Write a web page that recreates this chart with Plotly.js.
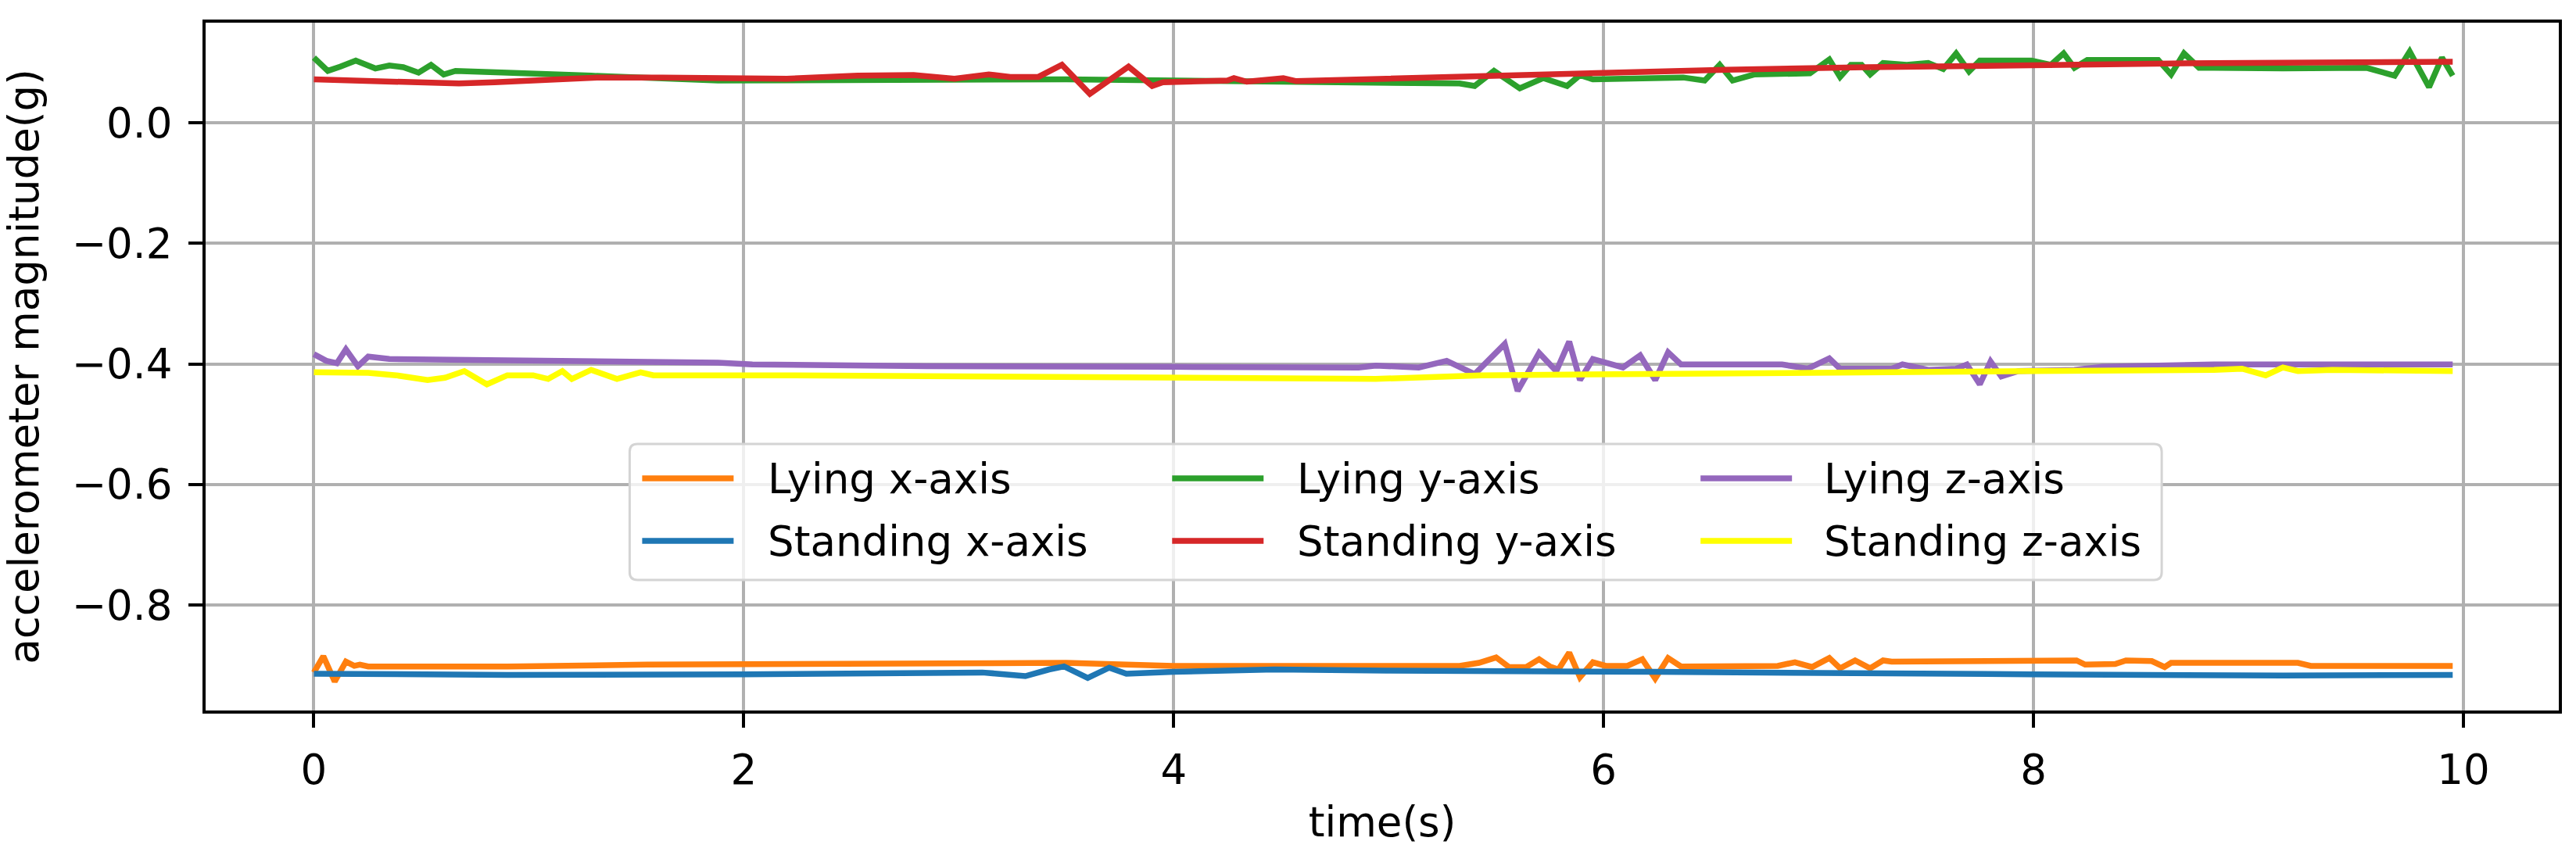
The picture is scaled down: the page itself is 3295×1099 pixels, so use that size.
<!DOCTYPE html>
<html>
<head>
<meta charset="utf-8">
<script src="https://cdn.plot.ly/plotly-3.0.1.min.js"></script>
<style>
  html, body { margin: 0; padding: 0; background: #ffffff; }
  #chart { width: 3295px; height: 1099px; }
</style>
</head>
<body>
<div id="chart"></div>
<script>
// ---------------- data ----------------
const seriesNames = ["Lying x-axis", "Standing x-axis", "Lying y-axis", "Standing y-axis", "Lying z-axis", "Standing z-axis"];
const seriesColors = ["#ff7f0e", "#1f77b4", "#2ca02c", "#d62728", "#9467bd", "#ffff00"];

const tLyingX = [0, 0.044, 0.097, 0.149, 0.188, 0.214, 0.253, 0.9, 1.55, 2.53, 3.5, 4.0, 4.99, 5.22, 5.27, 5.33, 5.42, 5.50, 5.56, 5.64, 5.70, 5.75, 5.79, 5.84, 5.89, 5.95, 6.01, 6.11, 6.18, 6.24, 6.30, 6.36, 6.81, 6.89, 6.97, 7.05, 7.10, 7.17, 7.24, 7.30, 7.34, 7.99, 8.20, 8.24, 8.38, 8.43, 8.55, 8.61, 8.64, 9.23, 9.29, 9.95];
const lyingX = [-0.912, -0.885, -0.927, -0.894, -0.901, -0.899, -0.902, -0.902, -0.899, -0.898, -0.896, -0.901, -0.902, -0.901, -0.903, -0.901, -0.896, -0.887, -0.903, -0.903, -0.890, -0.902, -0.907, -0.879, -0.920, -0.895, -0.901, -0.901, -0.890, -0.922, -0.888, -0.902, -0.901, -0.895, -0.903, -0.888, -0.905, -0.892, -0.905, -0.892, -0.894, -0.891, -0.892, -0.899, -0.898, -0.892, -0.893, -0.903, -0.896, -0.896, -0.901, -0.901];

const tStandingX = [0, 0.9, 2.0, 2.85, 3.11, 3.18, 3.31, 3.42, 3.49, 3.60, 3.70, 3.78, 3.87, 4.0, 4.47, 4.99, 6.24, 7.22, 7.99, 9.16, 9.95];
const standingX = [-0.914, -0.916, -0.915, -0.912, -0.912, -0.914, -0.918, -0.907, -0.902, -0.921, -0.904, -0.914, -0.912, -0.911, -0.907, -0.909, -0.911, -0.912, -0.915, -0.917, -0.916];

const tLyingY = [0, 0.065, 0.123, 0.195, 0.286, 0.351, 0.416, 0.487, 0.545, 0.604, 0.659, 0.708, 0.9, 1.29, 1.88, 3.5, 4.0, 4.94, 5.33, 5.40, 5.49, 5.61, 5.72, 5.83, 5.89, 5.95, 6.24, 6.37, 6.47, 6.54, 6.60, 6.70, 6.96, 7.05, 7.10, 7.15, 7.20, 7.24, 7.30, 7.41, 7.51, 7.58, 7.64, 7.70, 7.75, 7.99, 8.08, 8.14, 8.19, 8.25, 8.58, 8.64, 8.70, 8.77, 8.84, 9.03, 9.16, 9.55, 9.68, 9.75, 9.84, 9.90, 9.95];
const lyingY = [0.108, 0.086, 0.093, 0.103, 0.090, 0.095, 0.092, 0.083, 0.096, 0.080, 0.086, 0.085, 0.083, 0.078, 0.070, 0.072, 0.070, 0.067, 0.065, 0.061, 0.086, 0.057, 0.074, 0.061, 0.079, 0.072, 0.074, 0.075, 0.070, 0.096, 0.070, 0.080, 0.082, 0.105, 0.076, 0.096, 0.096, 0.080, 0.099, 0.096, 0.099, 0.089, 0.115, 0.085, 0.103, 0.103, 0.096, 0.115, 0.091, 0.104, 0.104, 0.080, 0.115, 0.091, 0.091, 0.090, 0.090, 0.091, 0.078, 0.118, 0.059, 0.108, 0.078];

const tStandingY = [0, 0.25, 0.675, 0.84, 1.03, 1.32, 1.62, 2.0, 2.2, 2.53, 2.79, 2.98, 3.14, 3.24, 3.37, 3.48, 3.61, 3.79, 3.90, 3.95, 4.25, 4.28, 4.34, 4.51, 4.57, 4.99, 5.27, 5.98, 6.57, 7.22, 7.99, 8.84, 9.95];
const standingY = [0.072, 0.070, 0.065, 0.067, 0.071, 0.075, 0.075, 0.073, 0.073, 0.078, 0.079, 0.073, 0.080, 0.076, 0.076, 0.096, 0.048, 0.093, 0.061, 0.067, 0.070, 0.074, 0.068, 0.074, 0.069, 0.073, 0.076, 0.083, 0.088, 0.092, 0.096, 0.099, 0.101];

const tLyingZ = [0, 0.058, 0.107, 0.149, 0.205, 0.253, 0.351, 1.0, 1.88, 2.04, 2.85, 4.0, 4.86, 4.94, 5.14, 5.27, 5.40, 5.54, 5.60, 5.70, 5.78, 5.84, 5.89, 5.95, 6.01, 6.09, 6.17, 6.24, 6.30, 6.36, 6.83, 6.95, 7.05, 7.10, 7.34, 7.39, 7.51, 7.64, 7.69, 7.75, 7.80, 7.85, 7.93, 8.19, 8.32, 8.84, 9.95];
const lyingZ = [-0.384, -0.395, -0.399, -0.376, -0.404, -0.388, -0.392, -0.394, -0.398, -0.401, -0.404, -0.405, -0.406, -0.403, -0.406, -0.395, -0.417, -0.367, -0.445, -0.382, -0.412, -0.363, -0.427, -0.392, -0.399, -0.406, -0.386, -0.427, -0.381, -0.401, -0.401, -0.408, -0.391, -0.408, -0.408, -0.401, -0.410, -0.408, -0.401, -0.434, -0.396, -0.421, -0.412, -0.410, -0.405, -0.401, -0.401];

const tStandingZ = [0, 0.253, 0.383, 0.529, 0.61, 0.70, 0.805, 0.90, 1.02, 1.09, 1.156, 1.20, 1.29, 1.41, 1.52, 1.58, 2.2, 3.18, 4.0, 4.94, 5.43, 6.01, 6.89, 7.99, 8.84, 8.97, 9.08, 9.16, 9.23, 9.39, 9.95];
const standingZ = [-0.414, -0.415, -0.419, -0.427, -0.423, -0.412, -0.434, -0.419, -0.419, -0.425, -0.412, -0.425, -0.410, -0.425, -0.414, -0.419, -0.419, -0.421, -0.425, -0.425, -0.419, -0.417, -0.415, -0.412, -0.410, -0.408, -0.419, -0.406, -0.412, -0.410, -0.412];

const xTickVals = [0, 2, 4, 6, 8, 10];
const xTickText = ["0", "2", "4", "6", "8", "10"];
const yTickVals = [-0.8, -0.6, -0.4, -0.2, 0.0];
const yTickText = ["\u22120.8", "\u22120.6", "\u22120.4", "\u22120.2", "0.0"];
const xTitle = "time(s)";
const yTitle = "accelerometer magnitude(g)";

// ---------------- figure ----------------
const W = 3295, H = 1099;
const M = { l: 262.5, r: 22, t: 29, b: 190 };
const plotW = W - M.l - M.r, plotH = H - M.t - M.b;
const FONT = "DejaVu Sans, Verdana, sans-serif";
const FS = 53;

const times = [tLyingX, tStandingX, tLyingY, tStandingY, tLyingZ, tStandingZ];
const values = [lyingX, standingX, lyingY, standingY, lyingZ, standingZ];

const traces = seriesNames.map((name, i) => ({
  type: "scatter",
  mode: "lines",
  name: name,
  x: times[i],
  y: values[i],
  line: { color: seriesColors[i], width: 7.5 },
  showlegend: false,
  hoverinfo: "skip"
}));

// pixel -> paper helpers (legend box drawn like matplotlib's)
const px = v => (v - M.l) / plotW;
const py = v => (H - M.b - v) / plotH;

function roundRect(l, t, r, b, rad) {
  const P = (x, y) => px(x).toFixed(5) + "," + py(y).toFixed(5);
  return "M" + P(l + rad, t) + " L" + P(r - rad, t) + " Q" + P(r, t) + " " + P(r, t + rad) +
         " L" + P(r, b - rad) + " Q" + P(r, b) + " " + P(r - rad, b) +
         " L" + P(l + rad, b) + " Q" + P(l, b) + " " + P(l, b - rad) +
         " L" + P(l, t + rad) + " Q" + P(l, t) + " " + P(l + rad, t) + " Z";
}

const legBox = { l: 805, t: 568, r: 2765, b: 742 };
const colLineX = [821, 1499, 2175];
const lineLen = 117;
const colTextX = [980, 1657, 2331];
const rowY = [612, 692];
// legend order (matplotlib fills columns first)
const legendSlots = [[0, 0], [1, 0], [0, 1], [1, 1], [0, 2], [1, 2]]; // [row, col] per series

const shapes = [{
  type: "path", xref: "paper", yref: "paper", layer: "above",
  path: roundRect(legBox.l, legBox.t, legBox.r, legBox.b, 10),
  fillcolor: "rgba(255,255,255,0.8)",
  line: { color: "#d4d4d4", width: 3 }
}];
const annotations = [];
seriesNames.forEach((name, i) => {
  const [row, col] = legendSlots[i];
  shapes.push({
    type: "line", xref: "paper", yref: "paper", layer: "above",
    x0: px(colLineX[col]), x1: px(colLineX[col] + lineLen),
    y0: py(rowY[row]), y1: py(rowY[row]),
    line: { color: seriesColors[i], width: 7.5 }
  });
  annotations.push({
    xref: "paper", yref: "paper", x: px(colTextX[col]), y: py(rowY[row]),
    xanchor: "left", yanchor: "middle", showarrow: false,
    text: name, font: { family: FONT, size: FS, color: "#000000" }
  });
});

const axisCommon = {
  showline: true, linecolor: "#000000", linewidth: 4, mirror: true,
  showgrid: true, gridcolor: "#b0b0b0", gridwidth: 3.5,
  zeroline: false,
  ticks: "outside", ticklen: 18, tickwidth: 4, tickcolor: "#000000",
  tickfont: { family: FONT, size: FS, color: "#000000" },
  tickmode: "array",
  automargin: false
};

const layout = {
  width: W, height: H,
  margin: M,
  paper_bgcolor: "#ffffff",
  plot_bgcolor: "#ffffff",
  showlegend: false,
  font: { family: FONT, size: FS, color: "#000000" },
  xaxis: Object.assign({}, axisCommon, {
    range: [-0.5036, 10.4436],
    tickvals: xTickVals, ticktext: xTickText,
    ticklabelstandoff: 8,
    title: { text: xTitle, font: { family: FONT, size: FS, color: "#000000" }, standoff: 20 }
  }),
  yaxis: Object.assign({}, axisCommon, {
    range: [-0.97504, 0.16596],
    tickvals: yTickVals, ticktext: yTickText,
    ticklabelstandoff: 10,
    title: { text: yTitle, font: { family: FONT, size: FS, color: "#000000" }, standoff: 30 }
  }),
  shapes: shapes,
  annotations: annotations
};

Plotly.newPlot("chart", traces, layout, { displayModeBar: false, responsive: false });
</script>
</body>
</html>
